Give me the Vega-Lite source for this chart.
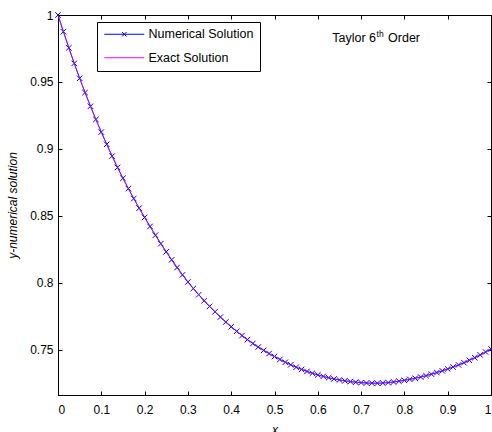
{
  "$schema": "https://vega.github.io/schema/vega-lite/v6.json",
  "width": 433,
  "height": 380,
  "autosize": {"type": "none"},
  "padding": {"left": 58, "top": 15, "right": 1, "bottom": 37},
  "background": "white",
  "config": {
    "font": "Liberation Sans",
    "view": {"stroke": "black", "strokeWidth": 1},
    "axis": {
      "grid": false,
      "domainColor": "black",
      "domainWidth": 1,
      "tickColor": "black",
      "tickWidth": 1,
      "labelColor": "black",
      "labelFont": "Liberation Sans",
      "labelFontSize": 12,
      "titleFont": "Liberation Sans",
      "titleFontSize": 12,
      "titleFontWeight": "normal",
      "titleFontStyle": "italic",
      "titleColor": "black"
    }
  },
  "datasets": {
    "solution": [
      {"x": 0, "numerical": 1, "exact": 1},
      {"x": 0.0125, "numerical": 0.98752, "exact": 0.98752},
      {"x": 0.025, "numerical": 0.97547, "exact": 0.97547},
      {"x": 0.0375, "numerical": 0.96387, "exact": 0.96387},
      {"x": 0.05, "numerical": 0.9527, "exact": 0.9527},
      {"x": 0.0625, "numerical": 0.94204, "exact": 0.94204},
      {"x": 0.075, "numerical": 0.93179, "exact": 0.93179},
      {"x": 0.0875, "numerical": 0.92194, "exact": 0.92194},
      {"x": 0.1, "numerical": 0.9125, "exact": 0.9125},
      {"x": 0.1125, "numerical": 0.90336, "exact": 0.90336},
      {"x": 0.125, "numerical": 0.89456, "exact": 0.89456},
      {"x": 0.1375, "numerical": 0.88611, "exact": 0.88611},
      {"x": 0.15, "numerical": 0.878, "exact": 0.878},
      {"x": 0.1625, "numerical": 0.87027, "exact": 0.87027},
      {"x": 0.175, "numerical": 0.86282, "exact": 0.86282},
      {"x": 0.1875, "numerical": 0.85564, "exact": 0.85564},
      {"x": 0.2, "numerical": 0.84875, "exact": 0.84875},
      {"x": 0.2125, "numerical": 0.84198, "exact": 0.84198},
      {"x": 0.225, "numerical": 0.83544, "exact": 0.83544},
      {"x": 0.2375, "numerical": 0.82911, "exact": 0.82911},
      {"x": 0.25, "numerical": 0.823, "exact": 0.823},
      {"x": 0.2625, "numerical": 0.81703, "exact": 0.81703},
      {"x": 0.275, "numerical": 0.81128, "exact": 0.81128},
      {"x": 0.2875, "numerical": 0.80578, "exact": 0.80578},
      {"x": 0.3, "numerical": 0.8005, "exact": 0.8005},
      {"x": 0.3125, "numerical": 0.79561, "exact": 0.79561},
      {"x": 0.325, "numerical": 0.79094, "exact": 0.79094},
      {"x": 0.3375, "numerical": 0.78648, "exact": 0.78648},
      {"x": 0.35, "numerical": 0.78225, "exact": 0.78225},
      {"x": 0.3625, "numerical": 0.77816, "exact": 0.77816},
      {"x": 0.375, "numerical": 0.77425, "exact": 0.77425},
      {"x": 0.3875, "numerical": 0.77053, "exact": 0.77053},
      {"x": 0.4, "numerical": 0.767, "exact": 0.767},
      {"x": 0.4125, "numerical": 0.76362, "exact": 0.76362},
      {"x": 0.425, "numerical": 0.76041, "exact": 0.76041},
      {"x": 0.4375, "numerical": 0.75737, "exact": 0.75737},
      {"x": 0.45, "numerical": 0.7545, "exact": 0.7545},
      {"x": 0.4625, "numerical": 0.75185, "exact": 0.75185},
      {"x": 0.475, "numerical": 0.74935, "exact": 0.74935},
      {"x": 0.4875, "numerical": 0.74698, "exact": 0.74698},
      {"x": 0.5, "numerical": 0.74475, "exact": 0.74475},
      {"x": 0.5125, "numerical": 0.74256, "exact": 0.74256},
      {"x": 0.525, "numerical": 0.7405, "exact": 0.7405},
      {"x": 0.5375, "numerical": 0.73856, "exact": 0.73856},
      {"x": 0.55, "numerical": 0.73675, "exact": 0.73675},
      {"x": 0.5625, "numerical": 0.73511, "exact": 0.73511},
      {"x": 0.575, "numerical": 0.73361, "exact": 0.73361},
      {"x": 0.5875, "numerical": 0.73224, "exact": 0.73224},
      {"x": 0.6, "numerical": 0.731, "exact": 0.731},
      {"x": 0.6125, "numerical": 0.7299, "exact": 0.7299},
      {"x": 0.625, "numerical": 0.72891, "exact": 0.72891},
      {"x": 0.6375, "numerical": 0.72803, "exact": 0.72803},
      {"x": 0.65, "numerical": 0.72725, "exact": 0.72725},
      {"x": 0.6625, "numerical": 0.72659, "exact": 0.72659},
      {"x": 0.675, "numerical": 0.72603, "exact": 0.72603},
      {"x": 0.6875, "numerical": 0.72559, "exact": 0.72559},
      {"x": 0.7, "numerical": 0.72525, "exact": 0.72525},
      {"x": 0.7125, "numerical": 0.72497, "exact": 0.72497},
      {"x": 0.725, "numerical": 0.72482, "exact": 0.72482},
      {"x": 0.7375, "numerical": 0.72482, "exact": 0.72482},
      {"x": 0.75, "numerical": 0.72495, "exact": 0.72495},
      {"x": 0.7625, "numerical": 0.72527, "exact": 0.72527},
      {"x": 0.775, "numerical": 0.72572, "exact": 0.72572},
      {"x": 0.7875, "numerical": 0.72627, "exact": 0.72627},
      {"x": 0.8, "numerical": 0.72695, "exact": 0.72695},
      {"x": 0.8125, "numerical": 0.72769, "exact": 0.72769},
      {"x": 0.825, "numerical": 0.72851, "exact": 0.72851},
      {"x": 0.8375, "numerical": 0.72944, "exact": 0.72944},
      {"x": 0.85, "numerical": 0.73045, "exact": 0.73045},
      {"x": 0.8625, "numerical": 0.73156, "exact": 0.73156},
      {"x": 0.875, "numerical": 0.73276, "exact": 0.73276},
      {"x": 0.8875, "numerical": 0.73406, "exact": 0.73406},
      {"x": 0.9, "numerical": 0.73545, "exact": 0.73545},
      {"x": 0.9125, "numerical": 0.73692, "exact": 0.73692},
      {"x": 0.925, "numerical": 0.73848, "exact": 0.73848},
      {"x": 0.9375, "numerical": 0.74017, "exact": 0.74017},
      {"x": 0.95, "numerical": 0.74195, "exact": 0.74195},
      {"x": 0.9625, "numerical": 0.74389, "exact": 0.74389},
      {"x": 0.975, "numerical": 0.74595, "exact": 0.74595},
      {"x": 0.9875, "numerical": 0.74814, "exact": 0.74814},
      {"x": 1, "numerical": 0.75045, "exact": 0.75045}
    ],
    "notes": [
      {"x": 0.7345, "y": 0.98, "part": "main", "label": "Taylor 6"},
      {"x": 0.7345, "y": 0.98, "part": "sup", "label": "th"},
      {"x": 0.7345, "y": 0.98, "part": "tail", "label": "Order"}
    ]
  },
  "layer": [
    {
      "data": {"name": "solution"},
      "mark": {"type": "line", "strokeWidth": 1},
      "encoding": {
        "x": {
          "field": "x", "type": "quantitative",
          "scale": {"domain": [0, 1], "nice": false, "zero": false},
          "axis": {
            "orient": "bottom", "title": "x",
            "values": [0, 0.1, 0.2, 0.3, 0.4, 0.5, 0.6, 0.7, 0.8, 0.9, 1],
            "labelExpr": "'' + datum.value",
            "tickSize": -4, "labelPadding": 13, "titlePadding": 9
          }
        },
        "y": {
          "field": "numerical", "type": "quantitative",
          "scale": {"domain": [0.716, 1], "nice": false, "zero": false},
          "axis": {
            "orient": "left", "title": "y-numerical solution",
            "values": [0.75, 0.8, 0.85, 0.9, 0.95, 1],
            "labelExpr": "'' + datum.value",
            "tickSize": -4, "labelPadding": 9, "titlePadding": 10
          }
        },
        "color": {
          "datum": "Numerical Solution", "type": "nominal",
          "scale": {"domain": ["Numerical Solution", "Exact Solution"], "range": ["#0000ff", "#ff00ff"]},
          "legend": {
            "title": null,
            "orient": "none",
            "legendX": 39,
            "legendY": 7,
            "strokeColor": "black",
            "fillColor": "white",
            "padding": 6,
            "symbolType": "stroke",
            "symbolSize": 100,
            "symbolOffset": 15,
            "symbolStrokeWidth": 1,
            "labelFont": "Liberation Sans",
            "labelFontSize": 12.5,
            "labelColor": "black",
            "labelOffset": 18,
            "rowPadding": 10.5,
            "encode": {
              "symbols": {
                "update": {
                  "shape": {"signal": "datum.value === 'Numerical Solution' ? 'M-4,0L4,0M-0.45,-0.45L0.45,0.45M-0.45,0.45L0.45,-0.45' : 'M-4,0L4,0'"},
                  "stroke": {"signal": "datum.value === 'Numerical Solution' ? '#0000ff' : '#ff80ff'"},
                  "strokeWidth": {"value": 1},
                  "opacity": {"value": 1}
                }
              }
            }
          }
        }
      }
    },
    {
      "data": {"name": "solution"},
      "mark": {"type": "point", "shape": "M-1,-1L1,1M-1,1L1,-1", "size": 30, "filled": false, "strokeWidth": 1, "opacity": 1},
      "encoding": {
        "x": {"field": "x", "type": "quantitative", "axis": null},
        "y": {"field": "numerical", "type": "quantitative", "axis": null},
        "color": {"datum": "Numerical Solution", "type": "nominal"}
      }
    },
    {
      "data": {"name": "solution"},
      "mark": {"type": "line", "strokeWidth": 1, "opacity": 0.6},
      "encoding": {
        "x": {
          "field": "x", "type": "quantitative",
          "axis": {
            "orient": "top", "title": null, "labels": false,
            "values": [0, 0.1, 0.2, 0.3, 0.4, 0.5, 0.6, 0.7, 0.8, 0.9, 1],
            "tickSize": -4
          }
        },
        "y": {
          "field": "exact", "type": "quantitative",
          "axis": {
            "orient": "right", "title": null, "labels": false,
            "values": [0.75, 0.8, 0.85, 0.9, 0.95, 1],
            "tickSize": -4
          }
        },
        "color": {"datum": "Exact Solution", "type": "nominal"}
      }
    },
    {
      "data": {"name": "notes"},
      "transform": [{"filter": "datum.part === 'main'"}],
      "mark": {"type": "text", "align": "right", "baseline": "alphabetic", "fontSize": 12.5, "font": "Liberation Sans", "color": "black"},
      "encoding": {
        "x": {"field": "x", "type": "quantitative", "axis": null},
        "y": {"field": "y", "type": "quantitative", "axis": null},
        "text": {"field": "label"}
      }
    },
    {
      "data": {"name": "notes"},
      "transform": [{"filter": "datum.part === 'sup'"}],
      "mark": {"type": "text", "align": "left", "baseline": "alphabetic", "fontSize": 8.5, "font": "Liberation Sans", "color": "black", "dx": 0.5, "dy": -5},
      "encoding": {
        "x": {"field": "x", "type": "quantitative", "axis": null},
        "y": {"field": "y", "type": "quantitative", "axis": null},
        "text": {"field": "label"}
      }
    },
    {
      "data": {"name": "notes"},
      "transform": [{"filter": "datum.part === 'tail'"}],
      "mark": {"type": "text", "align": "left", "baseline": "alphabetic", "fontSize": 12.5, "font": "Liberation Sans", "color": "black", "dx": 12},
      "encoding": {
        "x": {"field": "x", "type": "quantitative", "axis": null},
        "y": {"field": "y", "type": "quantitative", "axis": null},
        "text": {"field": "label"}
      }
    }
  ],
  "resolve": {"axis": {"x": "independent", "y": "independent"}}
}
